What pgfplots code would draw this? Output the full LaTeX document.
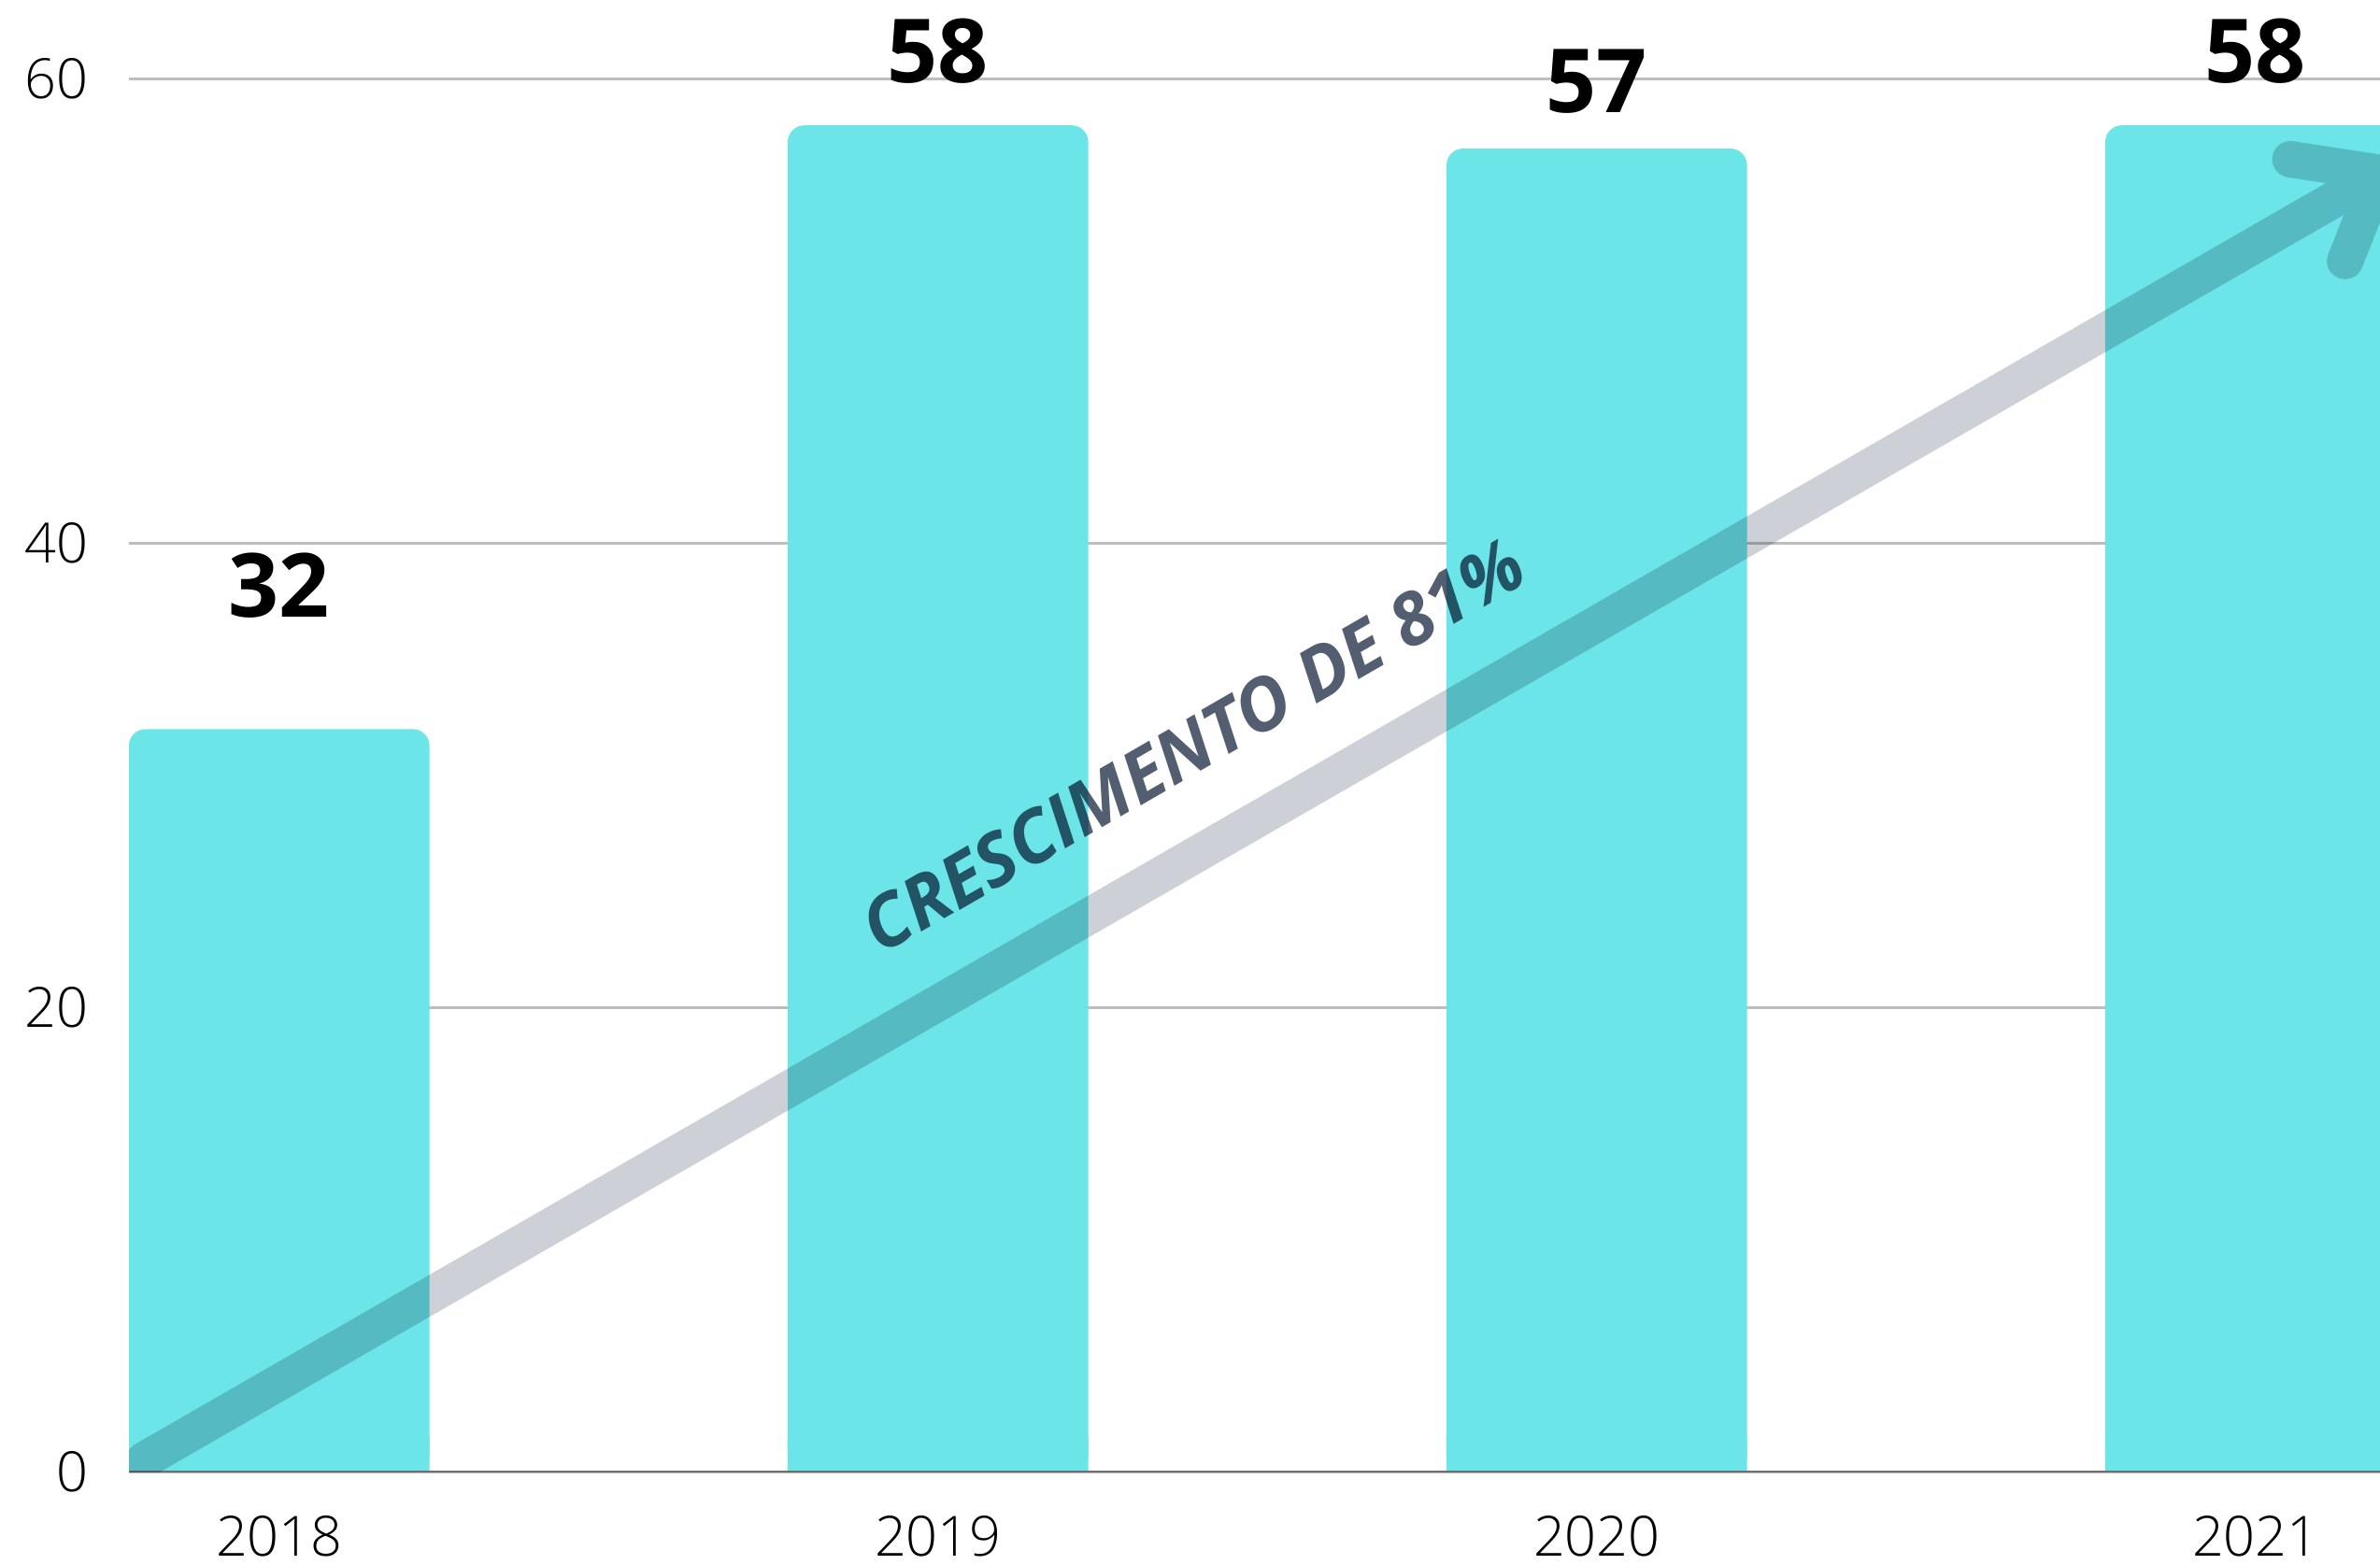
\documentclass[border=0pt]{standalone}
\usepackage{fontspec}
\setmainfont{Open Sans}
\newfontfamily\lightfont{Open Sans Light}
\usepackage{pgfplots}
\usepackage{pgfplotstable}
\pgfplotsset{compat=1.18}
\usetikzlibrary{calc}

\definecolor{barcyan}{HTML}{6BE5E8}
\definecolor{gridgray}{HTML}{BDBDBD}
\definecolor{axisgray}{HTML}{6E6E6E}
\definecolor{arrowgray}{HTML}{CDD0D7}
\definecolor{notegray}{HTML}{535E70}

% bar heights (y) and where each value label sits (ly)
\pgfplotstableread{
x y ly
0 32 38.2
1 58 61.2
2 57 59.9
3 58 61.2
}\bardata

\begin{document}
\begin{tikzpicture}
\begin{axis}[
    scale only axis,
    width=14.83cm, height=9.18cm,
    xmin=-0.228, xmax=3.189,
    ymin=0, ymax=60,
    axis line style={draw=none},
    tick style={draw=none},
    xtick={0,1,2,3},
    xticklabels={2018,2019,2020,2021},
    ytick={0,20,40,60},
    yticklabels={0,20,40,60},
    xticklabel style={font=\lightfont\fontsize{10.4}{12}\selectfont, inner sep=0pt, anchor=north, yshift=-0.28cm},
    yticklabel style={font=\lightfont\fontsize{10.4}{12}\selectfont, inner sep=0pt, anchor=east, xshift=-0.26cm},
    ymajorgrids,
    major grid style={draw=gridgray, line width=0.4pt},
]
% bars, rounded at the top
\addplot[ybar, bar width=1.98cm, fill=barcyan, draw=none, rounded corners=0.11cm,
    visualization depends on={\thisrow{ly} \as \labely},
    visualization depends on={\thisrow{y} \as \yval},
    point meta=explicit symbolic,
    nodes near coords,
    every node near coord/.append style={anchor=center, yshift={(\labely-\yval)*0.153cm},
        font=\bfseries\fontsize{16.6}{18}\selectfont, text=black}]
    table[x=x, y=y, meta=y] {\bardata};
% same bars again, square, only the foot, so the bottom corners stay sharp
\addplot[ybar, bar width=1.98cm, fill=barcyan, draw=none, sharp corners,
    y filter/.expression={min(y,1.5)}]
    table[x=x, y=y] {\bardata};

% x axis line
\draw[axisgray, line width=0.5pt] (rel axis cs:0,0) -- (rel axis cs:1,0);

% growth arrow and its note
\begin{scope}[blend mode=multiply]
\draw[overlay, arrowgray, line width=0.24cm, line cap=round, line join=round]
    (axis cs:-0.205,0.52) -- (axis cs:3.189,55.95)
    (axis cs:3.053,56.54) -- (axis cs:3.189,55.95) -- (axis cs:3.136,52.16);
\node[rotate=30, text=notegray, font=\bfseries\itshape\fontsize{13.6}{15}\selectfont]
    at (axis cs:1.387,31.3) {CRESCIMENTO DE 81\%};
\end{scope}
\end{axis}
\pgfresetboundingbox
\path[use as bounding box] ($(current axis.south west)+(-0.85cm,-0.61cm)$) rectangle ($(current axis.north east)+(0,0.52cm)$);
\end{tikzpicture}
\end{document}
